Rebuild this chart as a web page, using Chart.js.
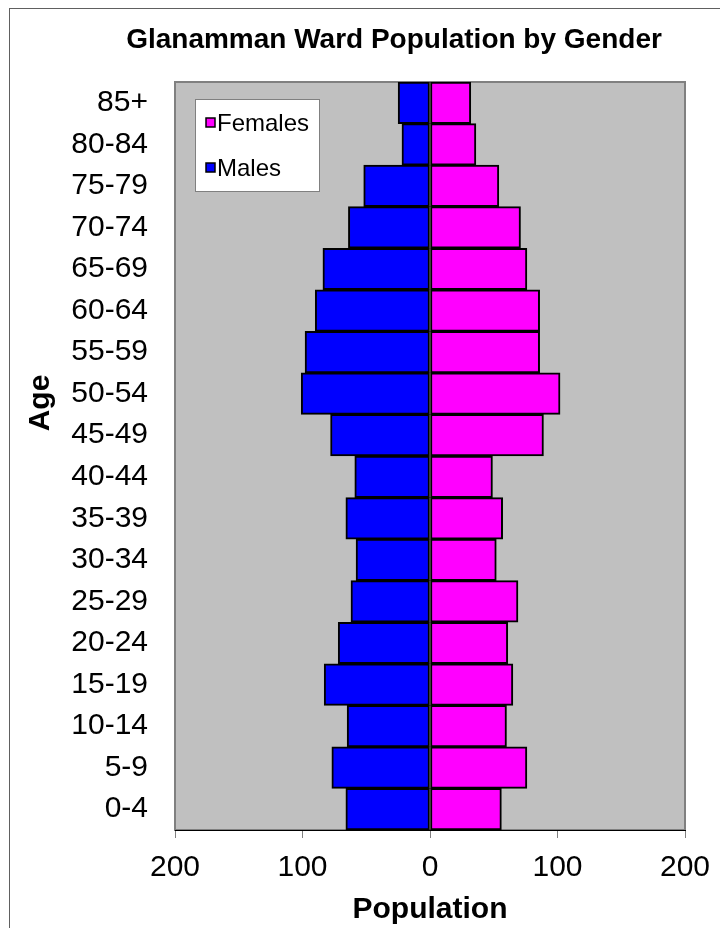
<!DOCTYPE html>
<html lang="en">
<head>
    <meta charset="UTF-8">
    <title>Glanamman Ward Population by Gender</title>
    <script src="https://cdn.jsdelivr.net/npm/chart.js"></script>
    <style>
        body {
            margin: 0;
            padding: 0;
            background: #fff;
        }
        canvas {
            display: block;
        }
    </style>
</head>
<body>
    <canvas id="pyramid" width="720" height="928"></canvas>

    <script>
        // Data (bottom to top)
        const ageGroups = ["0-4", "5-9", "10-14", "15-19", "20-24", "25-29", "30-34", "35-39", "40-44",
            "45-49", "50-54", "55-59", "60-64", "65-69", "70-74", "75-79", "80-84", "85+"];
        const males = [66, 77, 65, 83, 72, 62, 58, 66, 59, 78, 101, 98, 90, 84, 64, 52, 22, 25];
        const females = [56, 76, 60, 65, 61, 69, 52, 57, 49, 89, 102, 86, 86, 76, 71, 54, 36, 32];
        const xTicks = [-200, -100, 0, 100, 200];

        const FONT = "'Liberation Sans', Arial, sans-serif";

        // Grey plot area, outer frame, title, y title and legend
        const decorations = {
            id: "decorations",
            beforeDraw(chart) {
                const { ctx, chartArea: a } = chart;
                ctx.save();
                ctx.fillStyle = "#fff";
                ctx.fillRect(0, 0, chart.width, chart.height);

                // outer frame (runs off the right and bottom edge)
                ctx.strokeStyle = "#606060";
                ctx.lineWidth = 1;
                ctx.strokeRect(9.5, 8.5, 900, 1100);

                // plot area
                ctx.fillStyle = "#c0c0c0";
                ctx.fillRect(a.left, a.top, a.right - a.left, a.bottom - a.top);
                ctx.strokeStyle = "#808080";
                ctx.lineWidth = 2;
                ctx.strokeRect(a.left, a.top, a.right - a.left, a.bottom - a.top);

                // chart title
                ctx.fillStyle = "#000";
                ctx.font = "bold 28px " + FONT;
                ctx.textAlign = "center";
                ctx.textBaseline = "alphabetic";
                ctx.fillText("Glanamman Ward Population by Gender", 394, 48);

                // y axis title
                ctx.translate(41, 403);
                ctx.rotate(-Math.PI / 2);
                ctx.font = "bold 30px " + FONT;
                ctx.textBaseline = "middle";
                ctx.fillText("Age", 0, 0);
                ctx.restore();
            },
            afterDraw(chart) {
                const { ctx } = chart;
                ctx.save();
                ctx.fillStyle = "#fff";
                ctx.strokeStyle = "#808080";
                ctx.lineWidth = 1;
                ctx.fillRect(195.5, 99.5, 124, 92);
                ctx.strokeRect(195.5, 99.5, 124, 92);

                // Females first, then Males
                const order = [1, 0];
                const rows = [123, 168];
                ctx.font = "24px " + FONT;
                ctx.textAlign = "left";
                ctx.textBaseline = "middle";
                order.forEach((di, i) => {
                    const ds = chart.data.datasets[di];
                    const y = rows[i];
                    ctx.fillStyle = ds.backgroundColor;
                    ctx.fillRect(206, y - 5, 9, 9);
                    ctx.strokeStyle = "#000";
                    ctx.lineWidth = 1.5;
                    ctx.strokeRect(206, y - 5, 9, 9);
                    ctx.fillStyle = "#000";
                    ctx.fillText(ds.label, 217, y + 1);
                });
                ctx.restore();
            }
        };

        const ctx = document.getElementById("pyramid").getContext("2d");
        new Chart(ctx, {
            type: "bar",
            data: {
                labels: ageGroups,
                datasets: [
                    {
                        label: "Males",
                        data: males.map(v => -v),
                        backgroundColor: "#0000ff",
                        borderColor: "#000",
                        borderWidth: 2,
                        borderSkipped: false
                    },
                    {
                        label: "Females",
                        data: females,
                        backgroundColor: "#ff00ff",
                        borderColor: "#000",
                        borderWidth: 2,
                        borderSkipped: false
                    }
                ]
            },
            options: {
                indexAxis: "y",
                responsive: false,
                animation: false,
                categoryPercentage: 1.0,
                barPercentage: 1.0,
                layout: {
                    padding: { left: 0, top: 82, right: 35, bottom: 0 }
                },
                plugins: {
                    legend: { display: false },
                    title: { display: false },
                    tooltip: { enabled: false }
                },
                scales: {
                    x: {
                        stacked: true,
                        min: -200,
                        max: 200,
                        afterBuildTicks: scale => {
                            scale.ticks = xTicks.map(v => ({ value: v }));
                        },
                        afterFit: scale => {
                            scale.height = 98;
                            scale.paddingLeft = 0;
                            scale.paddingRight = 0;
                        },
                        grid: {
                            drawOnChartArea: false,
                            drawTicks: true,
                            tickLength: 8,
                            color: "#808080"
                        },
                        border: { display: true, color: "#000", width: 1 },
                        ticks: {
                            color: "#000",
                            padding: 12,
                            maxRotation: 0,
                            font: { family: FONT, size: 30 },
                            callback: v => Math.abs(v)
                        },
                        title: {
                            display: true,
                            text: "Population",
                            color: "#000",
                            font: { family: FONT, size: 30, weight: "bold" },
                            padding: { top: 0, bottom: 0 }
                        }
                    },
                    y: {
                        stacked: true,
                        reverse: true,
                        afterFit: scale => {
                            scale.width = 175;
                            scale.paddingTop = 0;
                            scale.paddingBottom = 0;
                        },
                        grid: { display: false, drawTicks: false },
                        border: { display: false },
                        ticks: {
                            color: "#000",
                            padding: 27,
                            autoSkip: false,
                            font: { family: FONT, size: 30 }
                        }
                    }
                }
            },
            plugins: [decorations]
        });
    </script>
</body>
</html>
